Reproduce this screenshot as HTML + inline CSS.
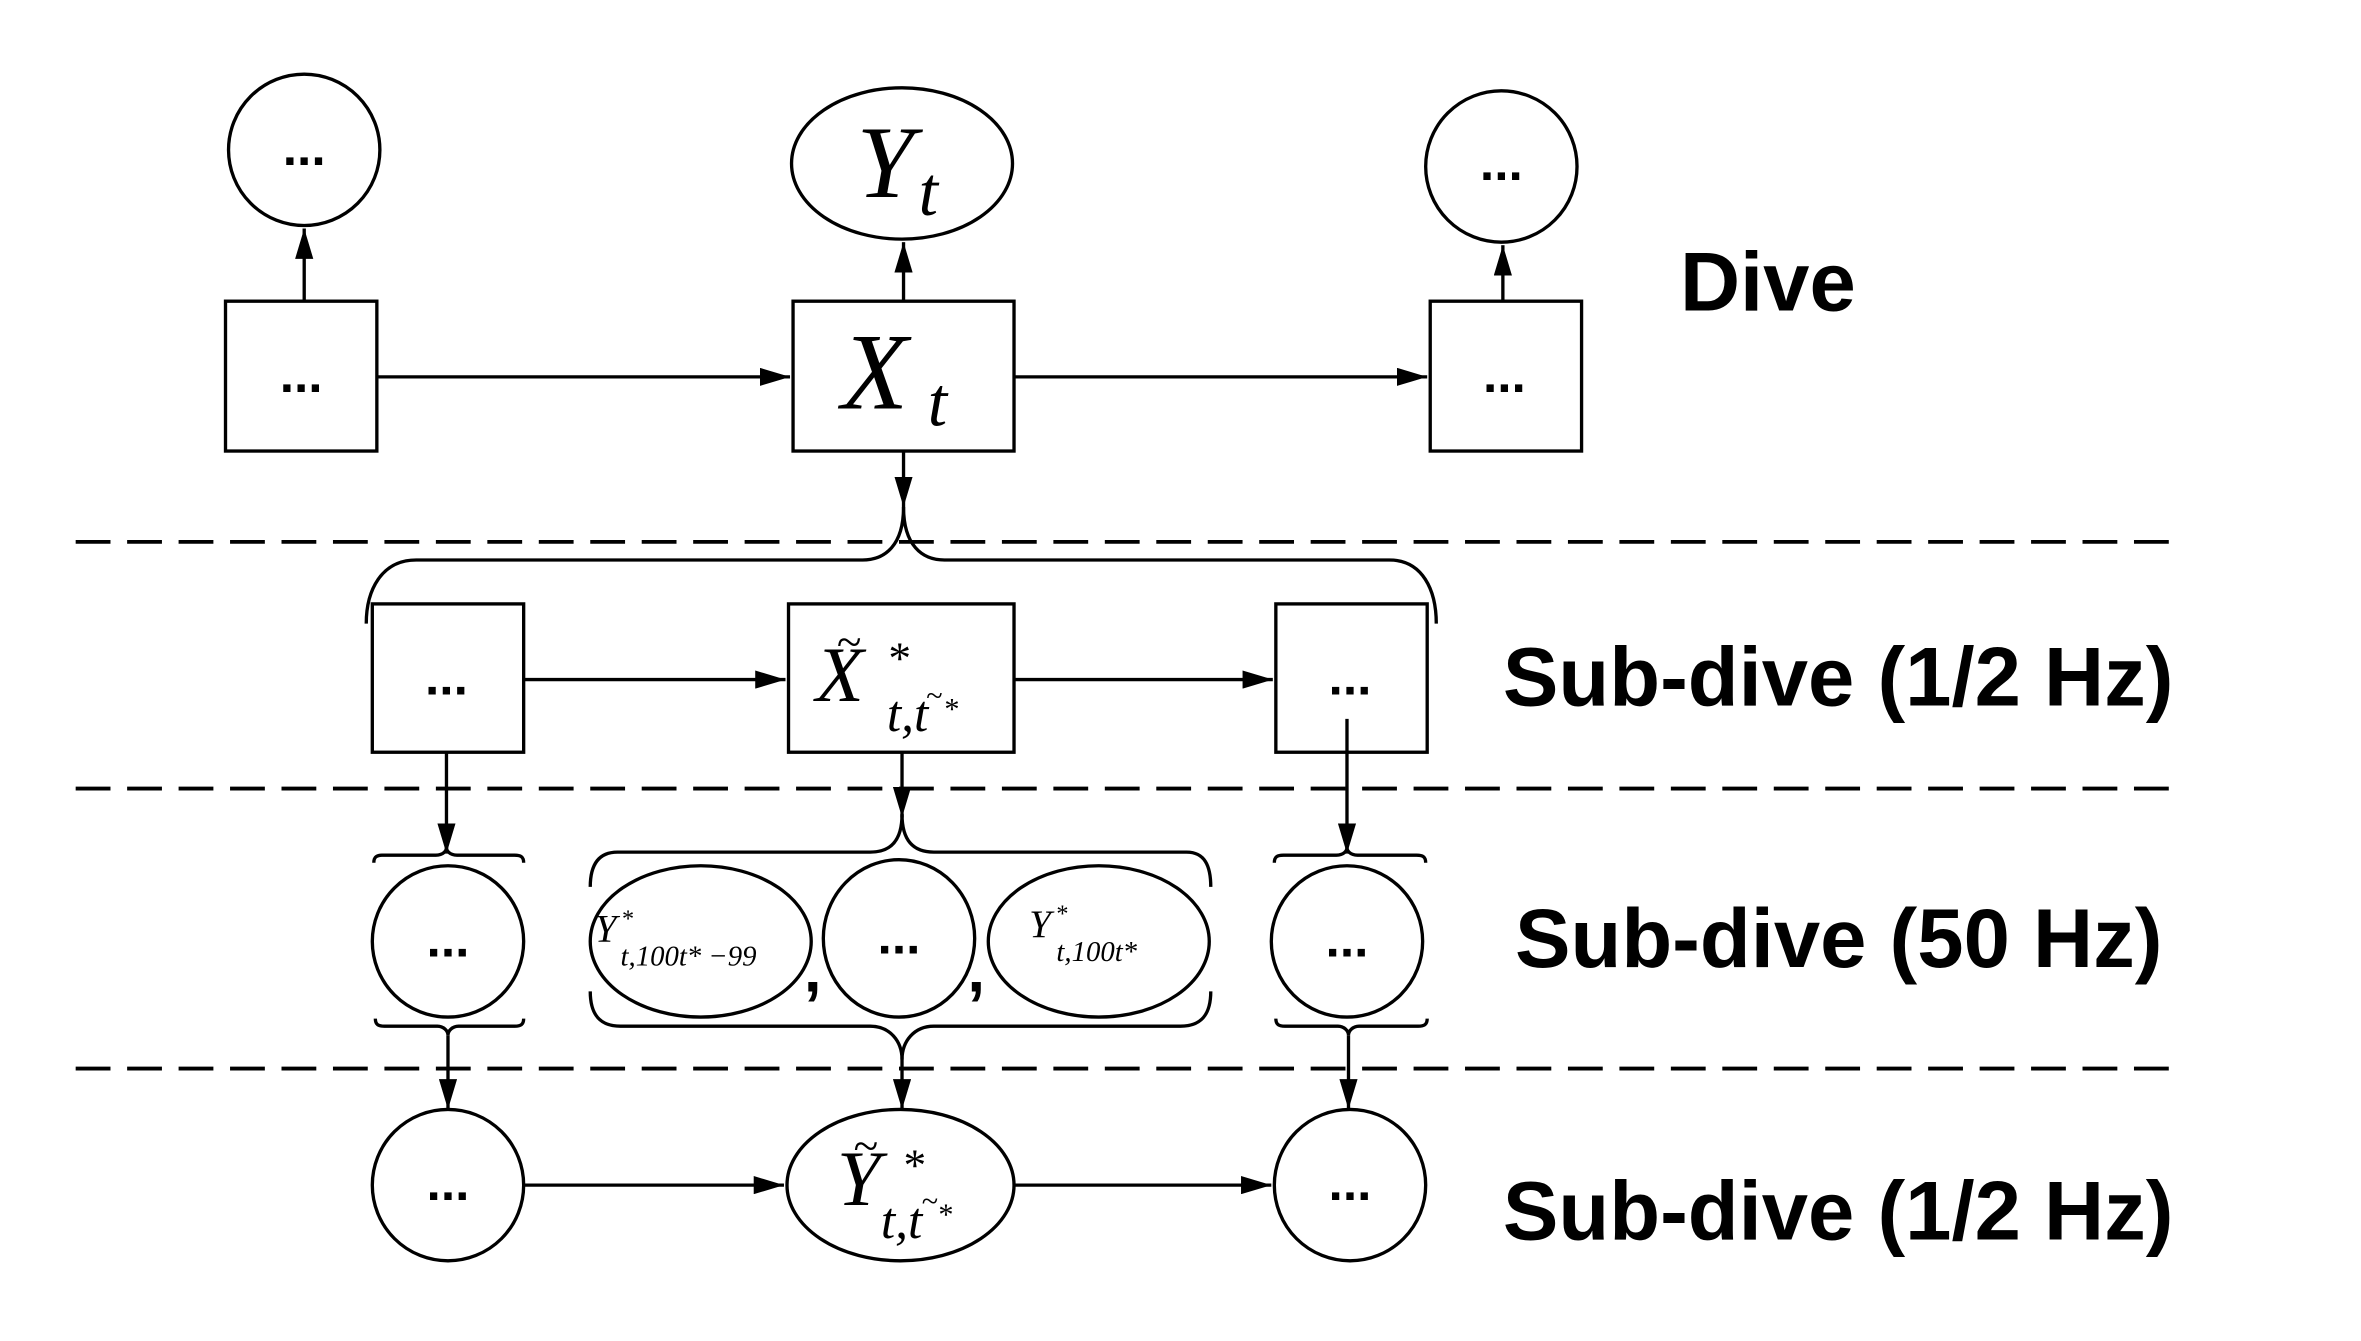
<!DOCTYPE html>
<html><head><meta charset="utf-8"><style>html,body{margin:0;padding:0;background:#fff}svg{display:block}</style></head>
<body>
<svg width="2361" height="1341" viewBox="0 0 1560 886" preserveAspectRatio="none" xmlns="http://www.w3.org/2000/svg">
<defs>
<marker id="a" viewBox="0 0 20 12" refX="20" refY="6" markerWidth="20" markerHeight="12" markerUnits="userSpaceOnUse" orient="auto"><path d="M0,0 L20,6 L0,12 z" fill="#000"/></marker>
</defs>
<g stroke="#000" stroke-width="2.2" fill="none">
<line x1="50" y1="358" x2="1442" y2="358" stroke-dasharray="23,11" stroke-width="2.5"/>
<line x1="50" y1="521" x2="1442" y2="521" stroke-dasharray="23,11" stroke-width="2.5"/>
<line x1="50" y1="706" x2="1442" y2="706" stroke-dasharray="23,11" stroke-width="2.5"/>
<circle cx="201" cy="99" r="50"/>
<ellipse cx="596" cy="108" rx="73" ry="50"/>
<circle cx="992" cy="110" r="50"/>
<rect x="149" y="199" width="100" height="99"/>
<rect x="524" y="199" width="146" height="99"/>
<rect x="945" y="199" width="100" height="99"/>
<line x1="249" y1="249" x2="522" y2="249" marker-end="url(#a)"/>
<line x1="670" y1="249" x2="943" y2="249" marker-end="url(#a)"/>
<line x1="201" y1="199" x2="201" y2="151" marker-end="url(#a)"/>
<line x1="597" y1="199" x2="597" y2="160" marker-end="url(#a)"/>
<line x1="993" y1="199" x2="993" y2="162" marker-end="url(#a)"/>
<line x1="597" y1="298" x2="597" y2="335" marker-end="url(#a)"/>
<path d="M597,335 C597,360 585,370 570,370 L275,370 C252,370 242,390 242,412"/>
<path d="M597,335 C597,360 609,370 624,370 L918,370 C940,370 949,390 949,412"/>
<rect x="246" y="399" width="100" height="98"/>
<rect x="521" y="399" width="149" height="98"/>
<rect x="843" y="399" width="100" height="98"/>
<line x1="346" y1="449" x2="519" y2="449" marker-end="url(#a)"/>
<line x1="670" y1="449" x2="841" y2="449" marker-end="url(#a)"/>
<line x1="295" y1="497" x2="295" y2="564" marker-end="url(#a)"/>
<line x1="890" y1="475" x2="890" y2="564" marker-end="url(#a)"/>
<line x1="596" y1="497" x2="596" y2="540" marker-end="url(#a)"/>
<path d="M596,538 C596,556 588,563 575,563 L408,563 C395,563 390,572 390,586"/>
<path d="M596,538 C596,556 604,563 617,563 L784,563 C796,563 800,572 800,586"/>
<path d="M390,655 C390,670 396,678 410,678 L575,678 C588,678 596,688 596,700"/>
<path d="M800,655 C800,670 794,678 780,678 L617,678 C604,678 596,688 596,700"/>
<line x1="596" y1="700" x2="596" y2="733" marker-end="url(#a)"/>
<path d="M247,570 C247,566 249,565 253,565 L288,565 C293,565 295,562 295,560 C295,562 297,565 302,565 L340,565 C344,565 346,566 346,570"/>
<path d="M248,673 C248,677 250,678 254,678 L289,678 C293,678 296,681 296,684 C296,681 299,678 303,678 L340,678 C344,678 346,677 346,673"/>
<line x1="296" y1="684" x2="296" y2="733" marker-end="url(#a)"/>
<path d="M842,570 C842,566 844,565 848,565 L883,565 C888,565 890,562 890,560 C890,562 892,565 897,565 L936,565 C940,565 942,566 942,570"/>
<path d="M843,673 C843,677 845,678 849,678 L884,678 C888,678 891,681 891,684 C891,681 894,678 898,678 L937,678 C941,678 943,677 943,673"/>
<line x1="891" y1="684" x2="891" y2="733" marker-end="url(#a)"/>
<circle cx="296" cy="622" r="50"/>
<ellipse cx="463" cy="622" rx="73" ry="50"/>
<ellipse cx="594" cy="620" rx="50" ry="52"/>
<ellipse cx="726" cy="622" rx="73" ry="50"/>
<circle cx="890" cy="622" r="50"/>
<circle cx="296" cy="783" r="50"/>
<ellipse cx="595" cy="783" rx="75" ry="50"/>
<circle cx="892" cy="783" r="50"/>
<line x1="346" y1="783" x2="518" y2="783" marker-end="url(#a)"/>
<line x1="670" y1="783" x2="840" y2="783" marker-end="url(#a)"/>
</g>
<g font-family="Liberation Sans, sans-serif" font-weight="bold" fill="#000" text-anchor="middle">
<text x="201" y="109" font-size="34">...</text>
<text x="992" y="119" font-size="34">...</text>
<text x="199" y="259" font-size="34">...</text>
<text x="994" y="259" font-size="34">...</text>
<text x="295" y="459" font-size="34">...</text>
<text x="892" y="459" font-size="34">...</text>
<text x="296" y="632" font-size="34">...</text>
<text x="594" y="630" font-size="34">...</text>
<text x="890" y="632" font-size="34">...</text>
<text x="296" y="793" font-size="34">...</text>
<text x="892" y="793" font-size="34">...</text>
<text x="537" y="655" font-size="42">,</text>
<text x="645" y="655" font-size="42">,</text>
</g>
<g font-family="Liberation Sans, sans-serif" font-weight="bold" fill="#000" font-size="55">
<text x="1110" y="205">Dive</text>
<text x="993" y="466">Sub-dive (1/2 Hz)</text>
<text x="1001" y="639">Sub-dive (50 Hz)</text>
<text x="993" y="819">Sub-dive (1/2 Hz)</text>
</g>
<g font-family="Liberation Serif, serif" font-style="italic" fill="#000">
<text x="566" y="130" font-size="68">Y</text><text x="607" y="142" font-size="46">t</text>
<text x="556" y="270" font-size="72">X</text><text x="613" y="281" font-size="46">t</text>
<text x="539" y="463" font-size="52">X</text><text x="553" y="434" font-size="30" font-style="normal">~</text>
<text x="587" y="445" font-size="30" font-style="normal">*</text>
<text x="586" y="483" font-size="34">t,t</text><text x="612" y="466" font-size="20" font-style="normal">~</text><text x="624" y="475" font-size="20" font-style="normal">*</text>
<text x="553" y="796" font-size="52">Y</text><text x="564" y="767" font-size="30" font-style="normal">~</text>
<text x="597" y="780" font-size="30" font-style="normal">*</text>
<text x="582" y="818" font-size="34">t,t</text><text x="609" y="800" font-size="20" font-style="normal">~</text><text x="620" y="809" font-size="20" font-style="normal">*</text>
<text x="393" y="622" font-size="26">Y</text><text x="411" y="612" font-size="16" font-style="normal">*</text>
<text x="410" y="638" font-size="19">t,100t* −99</text>
<text x="680" y="619" font-size="26">Y</text><text x="698" y="609" font-size="16" font-style="normal">*</text>
<text x="698" y="635" font-size="19">t,100t*</text>
</g>
</svg>
</body></html>
